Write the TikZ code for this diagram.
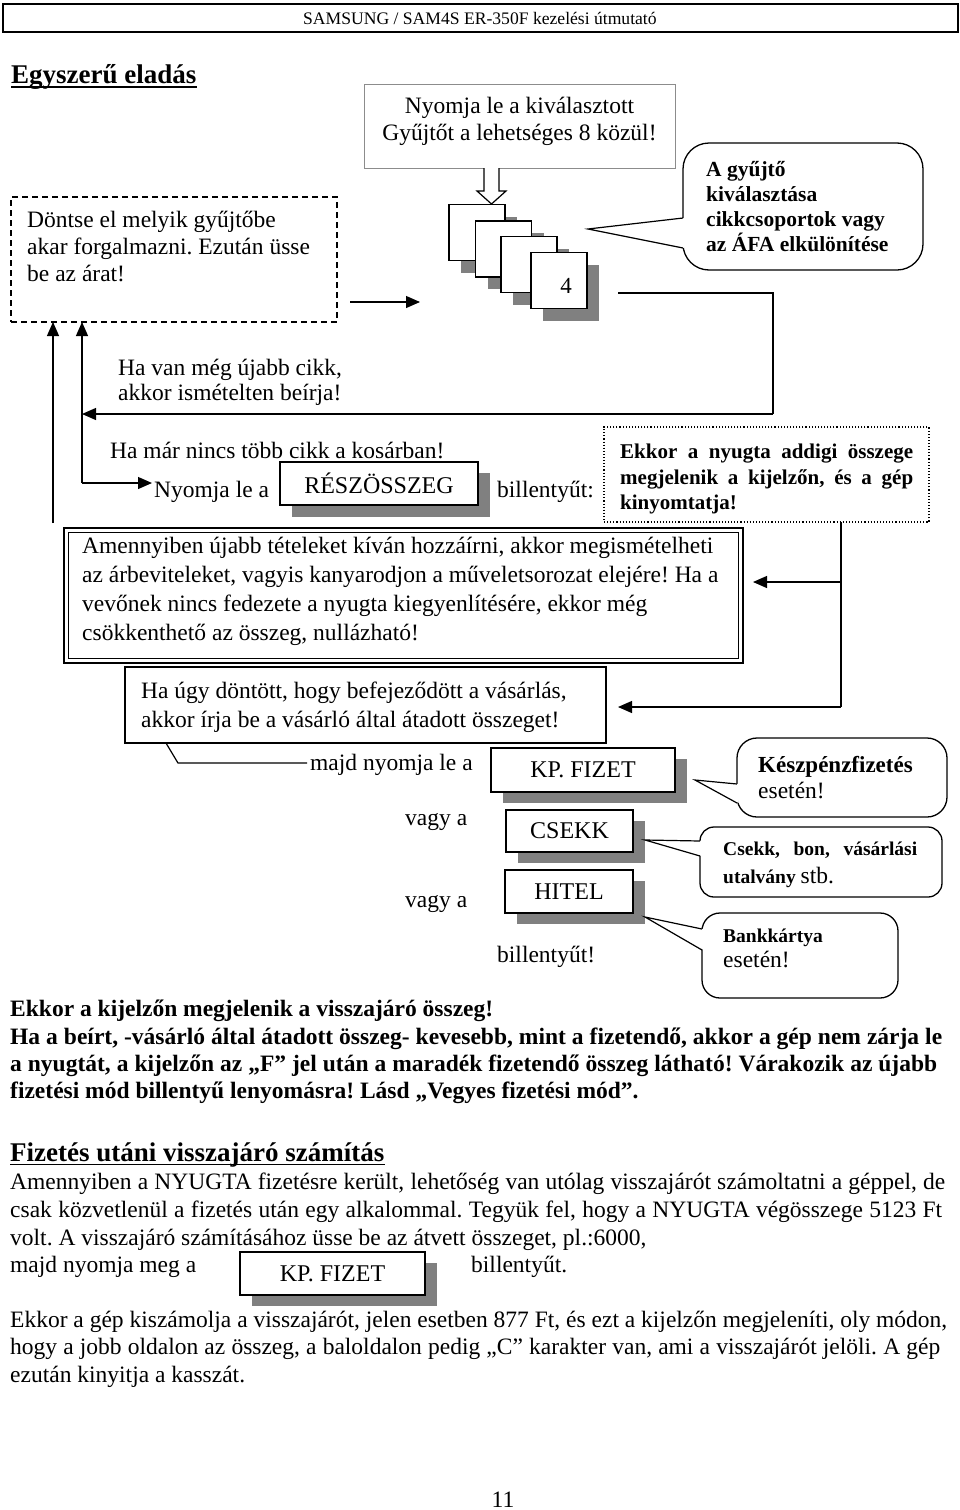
\documentclass[tikz,border=0pt]{standalone}
\usepackage{fontspec}
\setmainfont{Liberation Serif}
\usetikzlibrary{arrows.meta,shadows}
\definecolor{shadowgray}{HTML}{808080}
\newcommand{\jline}[2]{\makebox[#1][s]{#2}}
\frenchspacing
\begin{document}
\begin{tikzpicture}[x=1pt,y=-1pt,
  base/.style={anchor=base west, inner sep=0pt},
  reg/.style={base, font=\fontsize{23.5}{28}\selectfont},
  regc/.style={anchor=base, inner sep=0pt, font=\fontsize{23.5}{28}\selectfont},
  bld/.style={base, font=\fontsize{21.5}{26}\selectfont\bfseries},
  dbld/.style={base, font=\fontsize{21}{25}\selectfont\bfseries},
  sbld/.style={base, font=\fontsize{19.5}{23}\selectfont\bfseries},
  pbld/.style={base, font=\fontsize{23.5}{28}\selectfont\bfseries},
  arr/.style={line width=1.2pt, -{Triangle[length=14pt,width=12pt]}},
  ln/.style={line width=1.2pt},
  keyn/.style={draw, line width=1.6pt, fill=white, inner sep=0pt,
     font=\fontsize{24}{28}\selectfont,
     drop shadow={shadow xshift=12pt, shadow yshift=-11pt, fill=shadowgray, opacity=1}},
  card/.style={draw, line width=1.6pt, fill=white, inner sep=0pt, minimum width=56pt, minimum height=56pt,
     drop shadow={shadow xshift=12pt, shadow yshift=-12pt, fill=shadowgray, opacity=1}},
  callout/.style={draw, line width=1.3pt, fill=white},
]
\useasboundingbox (0,0) rectangle (960,1510);
\fill[white] (0,0) rectangle (960,1510);

% header
\draw[line width=2pt] (3,4) rectangle (958,32);
\node[base, font=\fontsize{17.6}{21}\selectfont] (hdr) at (303,24) {SAMSUNG / SAM4S ER-350F kezelési útmutató};

% title
\node[base, font=\fontsize{27}{32}\selectfont\bfseries] (title) at (11,83) {Egyszerű eladás};
\draw[line width=1.5pt] ([yshift=-4pt]title.base west) -- ([yshift=-4pt]title.base east);

% top box
\node[draw=black!45, line width=1pt, minimum width=311pt, minimum height=84pt, inner sep=0pt] (topbox) at (519.5,126) {};
\node[regc] (top1) at (519.5,113) {Nyomja le a kiválasztott};
\node[regc] (top2) at (519.5,140) {Gyűjtőt a lehetséges 8 közül!};

% dashed box
\node[draw, dashed, dash pattern=on 6pt off 4pt, line width=1.3pt, minimum width=326pt, minimum height=125pt, inner sep=0pt] (dbox) at (174,259.5) {};
\node[reg] (d1) at (27,227) {Döntse el melyik gyűjtőbe};
\node[reg] (d2) at (27,254) {akar forgalmazni. Ezután üsse};
\node[reg] (d3) at (27,281) {be az árat!};

% arrow to stack
\coordinate (a1s) at (350,302);
\coordinate (a1e) at (420,302);
\draw[arr] (a1s) -- (a1e);

% hollow arrow
\draw[line width=1.2pt, fill=white] (484,168) -- (484,191) -- (477,191) -- (491.5,204) -- (506,191) -- (499,191) -- (499,168);

% cards
\node[card] (c1) at (477,232.5) {};
\node[card] (c2) at (503.5,249) {};
\node[card] (c3) at (529,264.5) {};
\node[card] (c4) at (559,280.5) {};
\node[font=\fontsize{23}{26}\selectfont, inner sep=0pt] (four) at (566,286) {4};

% callout A
\draw[callout, rounded corners=26pt] (683,143) rectangle (923,270);
\fill[white] (684.5,218) -- (588,229) -- (684.5,248) -- cycle;
\draw[ln] (683,218) -- (588,229) -- (683,248);
\node[bld] (ca1) at (706,176) {A gyűjtő};
\node[bld] (ca2) at (706,201) {kiválasztása};
\node[bld] (ca3) at (706,226) {cikkcsoportok vagy};
\node[bld] (ca4) at (706,251) {az ÁFA elkülönítése};

% loop connector
\coordinate (s1) at (618,293);
\coordinate (s2) at (773,293);
\coordinate (s3) at (773,414);
\coordinate (j1) at (82,414);
\draw[ln] (s1) -- (s2) -- (s3);
\draw[arr] (s3) -- (j1);
\coordinate (j2) at (82,483);
\coordinate (up1) at (82,322);
\draw[arr] (j2) -- (up1);
\coordinate (n1) at (152,483);
\draw[arr] (j2) -- (n1);
\coordinate (l2a) at (53,523);
\coordinate (l2b) at (53,322);
\draw[arr] (l2a) -- (l2b);

\node[reg] (hv1) at (118,375) {Ha van még újabb cikk,};
\node[reg] (hv2) at (118,400) {akkor ismételten beírja!};
\node[reg] (hm) at (110,458) {Ha már nincs több cikk a kosárban!};
\node[reg] (ny) at (154,497) {Nyomja le a};

\node[keyn, minimum width=198pt, minimum height=43pt, drop shadow={shadow xshift=12pt, shadow yshift=-12pt, fill=shadowgray, opacity=1}] (resz) at (379,483.5) {RÉSZÖSSZEG};
\node[reg] (bill1) at (497,497) {billentyűt:};

% dotted box
\node[draw, dotted, line width=1.1pt, minimum width=325pt, minimum height=95pt, inner sep=0pt] (dot) at (766.5,474.5) {};
\node[dbld] (e1) at (620,458) {\jline{293pt}{Ekkor a nyugta addigi összege}};
\node[dbld] (e2) at (620,484) {\jline{293pt}{megjelenik a kijelzőn, és a gép}};
\node[dbld] (e3) at (620,509) {kinyomtatja!};

\coordinate (v1) at (841,522);
\coordinate (v2) at (841,582);
\coordinate (v3) at (841,707);
\coordinate (t1) at (753,582);
\coordinate (t2) at (618,707);
\draw[ln] (v1) -- (v3);
\draw[arr] (v2) -- (t1);
\draw[arr] (v3) -- (t2);

% double box
\draw[line width=2pt] (64,528) rectangle (743,663);
\draw[line width=1pt] (68.5,532.5) rectangle (738.5,658.5);
\node[reg] (b1) at (82,553) {Amennyiben újabb tételeket kíván hozzáírni, akkor megismételheti};
\node[reg] (b2) at (82,582) {az árbeviteleket, vagyis kanyarodjon a műveletsorozat elejére! Ha a};
\node[reg] (b3) at (82,611) {vevőnek nincs fedezete a nyugta kiegyenlítésére, ekkor még};
\node[reg] (b4) at (82,640) {csökkenthető az összeg, nullázható!};

% Ha ugy box
\draw[line width=1.3pt] (125,667) rectangle (606,743);
\node[reg] (h1) at (141,698) {Ha úgy döntött, hogy befejeződött a vásárlás,};
\node[reg] (h2) at (141,727) {akkor írja be a vásárló által átadott összeget!};
\coordinate (m0) at (166,743);
\coordinate (m1) at (178,763);
\coordinate (m2) at (307,763);
\draw[ln] (m0) -- (m1) -- (m2);

\node[reg] (mj) at (310,770) {majd nyomja le a};
\node[reg] (vg1) at (405,825) {vagy a};
\node[reg] (vg2) at (405,907) {vagy a};
\node[reg] (bill2) at (497,962) {billentyűt!};

\node[keyn, minimum width=184pt, minimum height=44pt] (kp) at (583,770) {KP. FIZET};
\node[keyn, minimum width=127pt, minimum height=42pt] (csekk) at (569.5,831) {CSEKK};
\node[keyn, minimum width=128pt, minimum height=43pt] (hitel) at (569,891.5) {HITEL};

% callouts right
\draw[callout, rounded corners=20pt] (737,738) rectangle (947,817);
\fill[white] (738.5,784) -- (695,780) -- (738.5,803) -- cycle;
\draw[ln] (737,784) -- (695,780) -- (737,803);
\node[base, font=\fontsize{23}{26}\selectfont\bfseries] (k1) at (758,772) {Készpénzfizetés};
\node[reg] (k2) at (758,798) {esetén!};

\draw[callout, rounded corners=14pt] (700,827) rectangle (942,897);
\fill[white] (701.5,841) -- (645,840) -- (701.5,856) -- cycle;
\draw[ln] (700,841) -- (645,840) -- (700,856);
\node[sbld] (cs1) at (723,855) {\jline{194pt}{Csekk, bon, vásárlási}};
\node[sbld] (cs2) at (723,883) {utalvány \fontsize{23.5}{26}\selectfont\mdseries stb.};

\draw[callout, rounded corners=18pt] (702,913) rectangle (898,998);
\fill[white] (703.5,929) -- (645,917) -- (703.5,950) -- cycle;
\draw[ln] (702,929) -- (645,917) -- (702,950);
\node[sbld] (bk1) at (723,942) {Bankkártya};
\node[reg] (bk2) at (723,967) {esetén!};

% bottom bold paragraph
\node[pbld] (p1) at (10,1016) {Ekkor a kijelzőn megjelenik a visszajáró összeg!};
\node[pbld] (p2) at (10,1044) {\jline{932pt}{Ha a beírt, -vásárló által átadott összeg- kevesebb, mint a fizetendő, akkor a gép nem zárja le}};
\node[pbld] (p3) at (10,1071) {\jline{927pt}{a nyugtát, a kijelzőn az „F” jel után a maradék fizetendő összeg látható! Várakozik az újabb}};
\node[pbld] (p4) at (10,1098) {fizetési mód billentyű lenyomásra! Lásd „Vegyes fizetési mód”.};

% heading 2
\node[base, font=\fontsize{27}{32}\selectfont\bfseries] (h2t) at (10,1161) {Fizetés utáni visszajáró számítás};
\draw[line width=1.5pt] ([yshift=-3.5pt]h2t.base west) -- ([yshift=-3.5pt]h2t.base east);

\node[reg] (q1) at (10,1189) {\jline{935pt}{Amennyiben a NYUGTA fizetésre került, lehetőség van utólag visszajárót számoltatni a géppel, de}};
\node[reg] (q2) at (10,1217) {\jline{932pt}{csak közvetlenül a fizetés után egy alkalommal. Tegyük fel, hogy a NYUGTA végösszege 5123 Ft}};
\node[reg] (q3) at (10,1245) {volt. A visszajáró számításához üsse be az átvett összeget, pl.:6000,};
\node[reg] (q4) at (10,1272) {majd nyomja meg a};
\node[keyn, minimum width=185pt, minimum height=43pt] (kp2) at (332.5,1273.5) {KP. FIZET};
\node[reg] (q5) at (471,1272) {billentyűt.};
\node[reg] (r1) at (10,1327) {\jline{937pt}{Ekkor a gép kiszámolja a visszajárót, jelen esetben 877 Ft, és ezt a kijelzőn megjeleníti, oly módon,}};
\node[reg] (r2) at (10,1354) {\jline{930pt}{hogy a jobb oldalon az összeg, a baloldalon pedig „C” karakter van, ami a visszajárót jelöli. A gép}};
\node[reg] (r3) at (10,1382) {ezután kinyitja a kasszát.};

\node[regc] (pg) at (503,1507) {11};
\end{tikzpicture}
\end{document}
